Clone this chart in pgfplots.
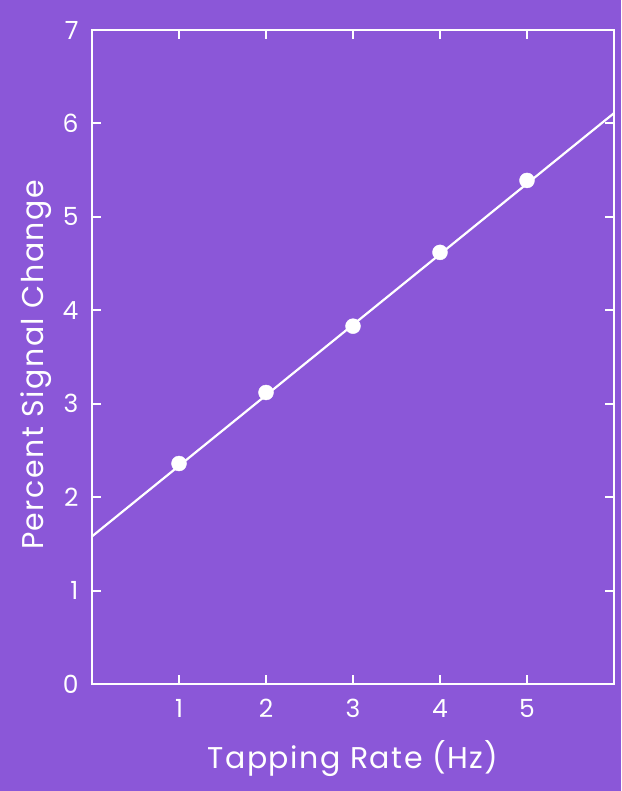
\documentclass[border=0pt]{standalone}
\usepackage{pgfplots}
\pgfplotsset{compat=1.18}
\usepackage{fontspec}
\setmainfont{Poppins}
\definecolor{bgpurple}{HTML}{8B57D8}
\begin{document}
\begin{tikzpicture}[x=1pt,y=1pt]
\fill[bgpurple] (0,0) rectangle (621,791);
\begin{axis}[
  at={(92pt,107pt)}, anchor=south west,
  scale only axis, width=522pt, height=654pt,
  xmin=0, xmax=6, ymin=0, ymax=7,
  xtick={1,2,3,4,5}, ytick={0,1,2,3,4,5,6,7},
  tick align=inside, major tick length=9pt,
  axis line style={white, line width=2.2pt},
  every tick/.style={white, line width=2pt},
  tick label style={white, font=\fontsize{25}{28}\selectfont},
  /pgf/number format/assume math mode=true,
  xticklabel style={yshift=-12pt},
  yticklabel style={xshift=-10pt},
  xlabel={Tapping Rate (Hz)}, ylabel={Percent Signal Change},
  label style={white, font=\fontsize{30}{34}\addfontfeatures{LetterSpace=5}\selectfont},
  xlabel style={yshift=-16pt},
  ylabel style={yshift=4pt, xshift=-8pt},
  clip=false,
]
\addplot[white, line width=2.2pt] coordinates {(0,1.58) (6,6.11)};
\addplot[only marks, mark=*, mark size=7.5pt, mark options={fill=white, draw=white}]
  coordinates {(1,2.36) (2,3.12) (3,3.83) (4,4.62) (5,5.39)};
\end{axis}
\end{tikzpicture}
\end{document}
